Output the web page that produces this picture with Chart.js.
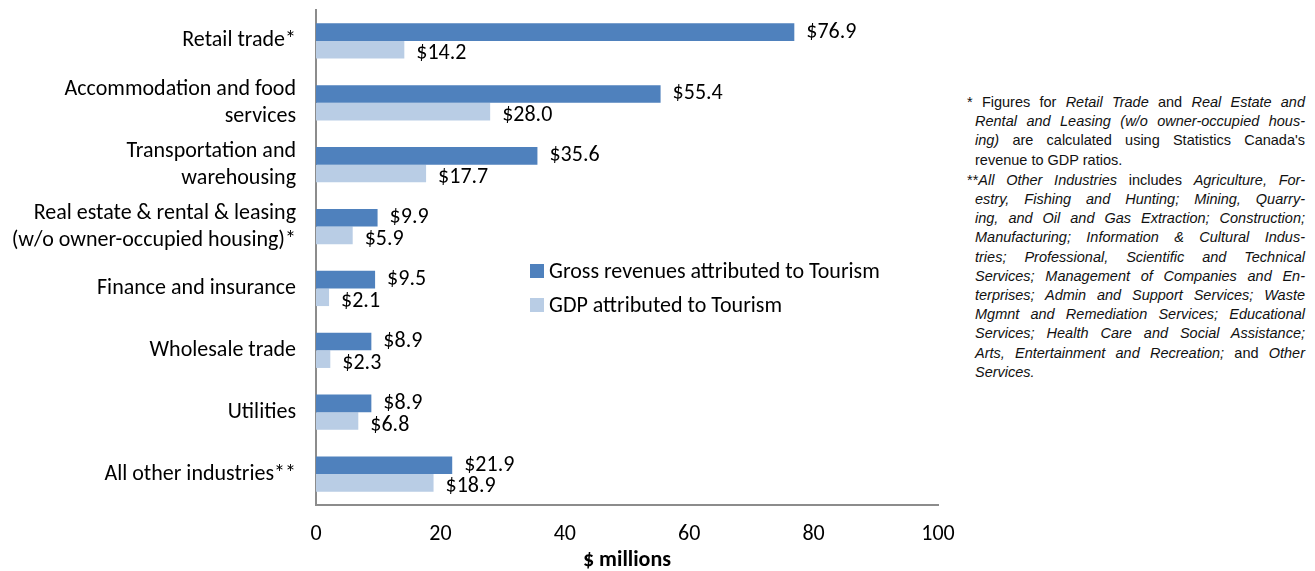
<!DOCTYPE html>
<html>
<head>
<meta charset="utf-8">
<script src="https://cdn.jsdelivr.net/npm/chart.js@4"></script>
<style>
  body { margin: 0; background: #fff; width: 1315px; height: 571px; overflow: hidden; position: relative; }
  #wrap { position: absolute; left: 0; top: 0; width: 955px; height: 571px; }
  .notes {
    position: absolute; left: 967px; top: 93px; width: 338px;
    font-family: "Liberation Sans", Arial, sans-serif; font-size: 14.5px; line-height: 19.2px; color: #111;
  }
  .notes .ln { display: block; text-align: justify; text-align-last: justify; padding-left: 8px; white-space: nowrap; }
  .notes .ln.first { padding-left: 0; }
  .notes .ln.end { text-align-last: left; }
  .notes .para2 { margin-top: 1px; }
</style>
</head>
<body>
<div id="wrap"><canvas id="chart" width="955" height="571"></canvas></div>

<div class="notes">
  <div>
    <span class="ln first">* Figures for <i>Retail Trade</i> and <i>Real Estate and</i></span>
    <span class="ln"><i>Rental and Leasing (w/o owner-occupied hous-</i></span>
    <span class="ln"><i>ing)</i> are calculated using Statistics Canada's</span>
    <span class="ln end">revenue to GDP ratios.</span>
  </div>
  <div class="para2">
    <span class="ln first">**<i>All Other Industries</i> includes <i>Agriculture, For-</i></span>
    <span class="ln"><i>estry, Fishing and Hunting; Mining, Quarry-</i></span>
    <span class="ln"><i>ing, and Oil and Gas Extraction; Construction;</i></span>
    <span class="ln"><i>Manufacturing; Information &amp; Cultural Indus-</i></span>
    <span class="ln"><i>tries; Professional, Scientific and Technical</i></span>
    <span class="ln"><i>Services; Management of Companies and En-</i></span>
    <span class="ln"><i>terprises; Admin and Support Services; Waste</i></span>
    <span class="ln"><i>Mgmnt and Remediation Services; Educational</i></span>
    <span class="ln"><i>Services; Health Care and Social Assistance;</i></span>
    <span class="ln"><i>Arts, Entertainment and Recreation;</i> and <i>Other</i></span>
    <span class="ln end"><i>Services.</i></span>
  </div>
</div>

<script>
// ─── data ($ millions) ───
const industries = [
  'Retail trade*',
  ['Accommodation and food', 'services'],
  ['Transportation and', 'warehousing'],
  ['Real estate & rental & leasing', '(w/o owner-occupied housing)*'],
  'Finance and insurance',
  'Wholesale trade',
  'Utilities',
  'All other industries**'
];
const grossRevenues = [76.9, 55.4, 35.6, 9.9, 9.5, 8.9, 8.9, 21.9];
const gdpValues = [14.2, 28.0, 17.7, 5.9, 2.1, 2.3, 6.8, 18.9];
const xTicks = [0, 20, 40, 60, 80, 100];

const FONT = 'Carlito, Lato, sans-serif';
const FONT_SIZE = 22;
const AXIS_GREY = '#8c8c8c';

// value labels to the right of each bar
const valueLabels = {
  id: 'valueLabels',
  afterDatasetsDraw(chart) {
    const ctx = chart.ctx;
    ctx.save();
    ctx.font = FONT_SIZE + 'px ' + FONT;
    ctx.fillStyle = '#000';
    ctx.textAlign = 'left';
    ctx.textBaseline = 'middle';
    chart.data.datasets.forEach((ds, i) => {
      const meta = chart.getDatasetMeta(i);
      meta.data.forEach((bar, j) => {
        const dy = i === 0 ? 0 : 4;
        ctx.fillText('$' + ds.data[j].toFixed(1), bar.x + 12, bar.y + dy);
      });
    });
    ctx.restore();
  }
};

// legend sits inside the plot area
const innerLegend = {
  id: 'innerLegend',
  afterDraw(chart) {
    const ctx = chart.ctx;
    const x = 530, y0 = 264, gap = 34, box = 14;
    ctx.save();
    ctx.font = FONT_SIZE + 'px ' + FONT;
    ctx.textBaseline = 'middle';
    ctx.textAlign = 'left';
    chart.data.datasets.forEach((ds, i) => {
      const y = y0 + i * gap;
      ctx.fillStyle = ds.backgroundColor;
      ctx.fillRect(x, y, box, box);
      ctx.fillStyle = '#000';
      ctx.fillText(ds.label, x + box + 5, y + box / 2 + 1);
    });
    ctx.restore();
  }
};

new Chart(document.getElementById('chart'), {
  type: 'bar',
  data: {
    labels: industries,
    datasets: [
      { label: 'Gross revenues attributed to Tourism', data: grossRevenues, backgroundColor: '#4f81bd' },
      { label: 'GDP attributed to Tourism', data: gdpValues, backgroundColor: '#b9cde5' }
    ]
  },
  options: {
    indexAxis: 'y',
    responsive: false,
    animation: false,
    devicePixelRatio: 1,
    layout: { padding: { top: 10, right: 17, bottom: 0, left: 0 } },
    datasets: { bar: { barPercentage: 1, categoryPercentage: 0.57 } },
    plugins: {
      legend: { display: false },
      tooltip: { enabled: false }
    },
    scales: {
      x: {
        min: 0, max: 100,
        afterBuildTicks: s => { s.ticks = xTicks.map(v => ({ value: v })); },
        grid: { display: false, drawTicks: false },
        border: { color: AXIS_GREY, width: 2 },
        ticks: { color: '#000', padding: 16, font: { family: FONT, size: FONT_SIZE } },
        title: {
          display: true, text: '$ millions', color: '#000',
          font: { family: FONT, size: FONT_SIZE, weight: 'bold', lineHeight: 1 },
          padding: { top: 4, bottom: 0 }
        },
        afterFit: s => { s.height = 66; s.paddingLeft = 0; s.paddingRight = 0; }
      },
      y: {
        grid: { display: false, drawTicks: false },
        border: { color: AXIS_GREY, width: 2 },
        ticks: { color: '#000', padding: 20, font: { family: FONT, size: FONT_SIZE, lineHeight: 27 / FONT_SIZE } },
        afterFit: s => { s.width = 316; s.paddingTop = 0; s.paddingBottom = 0; }
      }
    }
  },
  plugins: [valueLabels, innerLegend]
});
</script>
</body>
</html>
